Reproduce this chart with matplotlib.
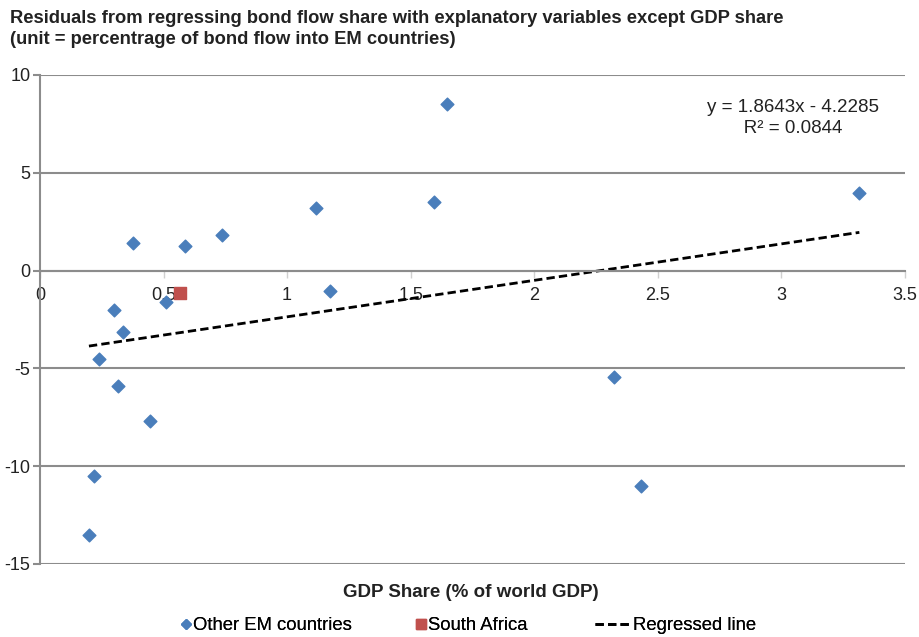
import matplotlib.pyplot as plt
from matplotlib.lines import Line2D

# Other EM countries: GDP share (% of world GDP) and residuals
em_gdp = [1.648, 3.316, 1.595, 1.117, 0.737, 0.587, 0.377, 1.174, 0.510,
          0.300, 0.336, 0.239, 0.316, 0.445, 0.219, 0.198, 2.324, 2.433]
em_resid = [8.52, 3.98, 3.52, 3.21, 1.84, 1.28, 1.43, -1.02, -1.63,
            -2.04, -3.16, -4.54, -5.92, -7.70, -10.51, -13.52, -5.46, -11.02]

# South Africa
sa_gdp = [0.567]
sa_resid = [-1.17]

# Trend line (from the equation shown on the chart)
slope = 1.8643
intercept = -4.2285
r2 = 0.0844

plt.rcParams['font.family'] = ['Liberation Sans', 'DejaVu Sans']
plt.rcParams['axes.unicode_minus'] = False

fig = plt.figure(figsize=(9.2, 6.37), dpi=100)
ax = fig.add_axes([0.0435, 0.1146, 0.94, 0.7677])

line_x = [min(em_gdp), max(em_gdp)]
line_y = [slope * v + intercept for v in line_x]

dash = (0, (3, 1.5))
ax.plot(line_x, line_y, color='black', linestyle=dash, linewidth=2, zorder=2)
ax.scatter(em_gdp, em_resid, marker='D', s=42, color='#4a7ebb', zorder=3)
ax.scatter(sa_gdp, sa_resid, marker='s', s=70, color='#c0504d', zorder=3)

ax.set_xlim(0, 3.5)
ax.set_ylim(-15, 10)
ax.set_yticks([-15, -10, -5, 0, 5, 10])
ax.set_xticks([0, 0.5, 1, 1.5, 2, 2.5, 3, 3.5])
ax.set_xticklabels(['0', '0.5', '1', '1.5', '2', '2.5', '3', '3.5'])
ax.yaxis.grid(True, color='#8c8c8c', linewidth=1.5)
ax.set_axisbelow(True)

for s in ['top', 'right']:
    ax.spines[s].set_visible(False)
ax.spines['bottom'].set_position(('data', 0))
ax.spines['bottom'].set_color('#8c8c8c')
ax.spines['bottom'].set_linewidth(1.5)
ax.spines['left'].set_color('#8c8c8c')
ax.spines['left'].set_linewidth(1.5)

ax.tick_params(axis='y', length=5, width=1.5, color='#8c8c8c', labelsize=13,
               labelcolor='#222222', pad=2)
ax.tick_params(axis='x', length=5, width=1, color='#d0d0d0', labelsize=13,
               labelcolor='#222222', pad=7)

ax.text(0.771, 0.912, f'y = {slope}x - {-intercept}\n       R² = {r2}',
        transform=ax.transAxes, fontsize=13.5, color='#222222', va='center',
        linespacing=1.35)

fig.text(0.011, 0.984, 'Residuals from regressing bond flow share with explanatory variables except GDP share\n'
         '(unit = percentrage of bond flow into EM countries)',
         fontsize=13.2, fontweight='bold', color='#222222', va='top', linespacing=1.32)

fig.text(0.512, 0.07, 'GDP Share (% of world GDP)', ha='center', va='center',
         fontsize=13.5, fontweight='bold', color='#222222')

# one legend per entry so each key can have its own width, like the original
legend_items = [
    (Line2D([], [], marker='D', color='#4a7ebb', linestyle='none', markersize=5),
     'Other EM countries', 180, 0.6, 0.1),
    (Line2D([], [], marker='s', color='#c0504d', linestyle='none', markersize=7),
     'South Africa', 415, 0.6, 0.1),
    (Line2D([], [], color='black', linestyle=dash, linewidth=2),
     'Regressed line', 595, 1.9, 0.15),
]
for handle, label, xpx, hlen, hpad in legend_items:
    leg = fig.legend([handle], [label], loc='center left',
                     bbox_to_anchor=(xpx / 920, 0.018), frameon=False,
                     fontsize=13.3, handlelength=hlen, handletextpad=hpad,
                     borderpad=0, borderaxespad=0)
    fig.add_artist(leg)

fig.savefig('out.png', dpi=100)
